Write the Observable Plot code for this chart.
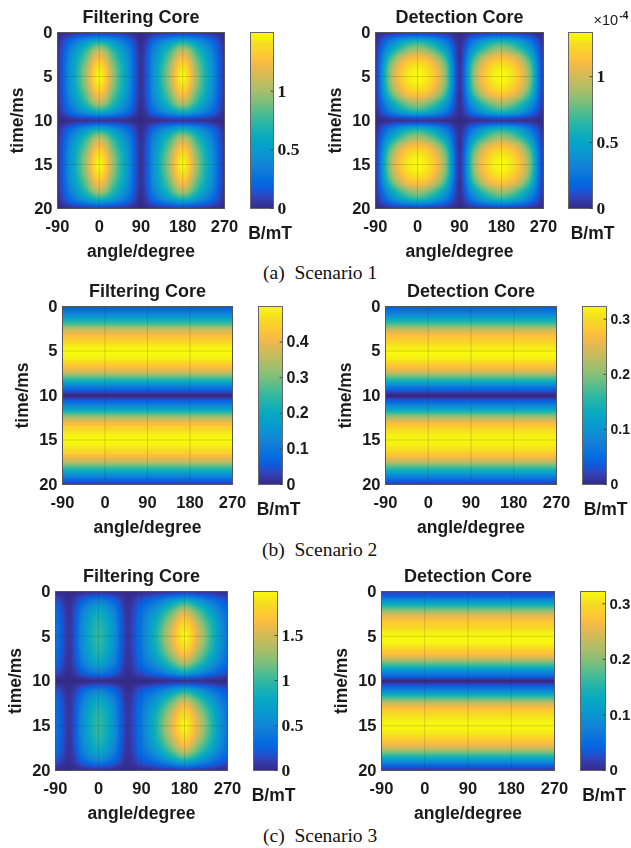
<!DOCTYPE html>
<html>
<head>
<meta charset="utf-8">
<script src="https://cdn.jsdelivr.net/npm/d3@7"></script>
<script src="https://cdn.jsdelivr.net/npm/@observablehq/plot@0.6"></script>
<style>
html,body{margin:0;padding:0;background:#fff;}
#page{position:relative;width:631px;height:848px;overflow:hidden;background:#fff;}
#page svg{position:absolute;filter:blur(0.35px);background:transparent;}
.cap{position:absolute;font-family:"Liberation Serif",serif;font-size:19.5px;color:#111;white-space:pre;line-height:20px;}
</style>
</head>
<body>
<div id="page"></div>
<script>
const angles2D = [-90,-60,-30,0,30,60,90,120,150,180,210,240,270];
const times2D = d3.range(0,21);
const anglesFlat = [-90,270];
const timesFlat = d3.range(0,20.5,0.5);
const xTicks = [-90,0,90,180,270];
const yTicks = [0,5,10,15,20];

const s1Filtering = [
[.00,.03,.05,.06,.05,.03,.00,.03,.05,.06,.05,.03,.00],
[.02,.25,.46,.63,.46,.25,.02,.25,.46,.63,.46,.25,.02],
[.03,.38,.72,1.05,.72,.38,.03,.38,.72,1.05,.72,.38,.03],
[.04,.45,.85,1.27,.85,.45,.04,.45,.85,1.27,.85,.45,.04],
[.04,.49,.95,1.43,.95,.49,.04,.49,.95,1.43,.95,.49,.04],
[.04,.50,.98,1.50,.98,.50,.04,.50,.98,1.50,.98,.50,.04],
[.04,.49,.95,1.43,.95,.49,.04,.49,.95,1.43,.95,.49,.04],
[.04,.45,.85,1.27,.85,.45,.04,.45,.85,1.27,.85,.45,.04],
[.03,.38,.72,1.05,.72,.38,.03,.38,.72,1.05,.72,.38,.03],
[.02,.25,.46,.63,.46,.25,.02,.25,.46,.63,.46,.25,.02],
[.00,.03,.05,.06,.05,.03,.00,.03,.05,.06,.05,.03,.00],
[.02,.25,.46,.63,.46,.25,.02,.25,.46,.63,.46,.25,.02],
[.03,.38,.72,1.05,.72,.38,.03,.38,.72,1.05,.72,.38,.03],
[.04,.45,.85,1.27,.85,.45,.04,.45,.85,1.27,.85,.45,.04],
[.04,.49,.95,1.43,.95,.49,.04,.49,.95,1.43,.95,.49,.04],
[.04,.50,.98,1.50,.98,.50,.04,.50,.98,1.50,.98,.50,.04],
[.04,.49,.95,1.43,.95,.49,.04,.49,.95,1.43,.95,.49,.04],
[.04,.45,.85,1.27,.85,.45,.04,.45,.85,1.27,.85,.45,.04],
[.03,.38,.72,1.05,.72,.38,.03,.38,.72,1.05,.72,.38,.03],
[.02,.25,.46,.63,.46,.25,.02,.25,.46,.63,.46,.25,.02],
[.00,.03,.05,.06,.05,.03,.00,.03,.05,.06,.05,.03,.00]
];
const s1Detection = [
[.00,.03,.04,.05,.04,.03,.00,.03,.04,.05,.04,.03,.00],
[.02,.27,.50,.60,.50,.27,.02,.27,.50,.60,.50,.27,.02],
[.03,.47,.77,.90,.77,.47,.03,.47,.77,.90,.77,.47,.03],
[.03,.67,1.04,1.15,1.04,.67,.03,.67,1.04,1.15,1.04,.67,.03],
[.04,.80,1.17,1.29,1.17,.80,.04,.80,1.17,1.29,1.17,.80,.04],
[.04,.83,1.22,1.33,1.22,.83,.04,.83,1.22,1.33,1.22,.83,.04],
[.04,.80,1.17,1.29,1.17,.80,.04,.80,1.17,1.29,1.17,.80,.04],
[.03,.67,1.04,1.15,1.04,.67,.03,.67,1.04,1.15,1.04,.67,.03],
[.03,.47,.77,.90,.77,.47,.03,.47,.77,.90,.77,.47,.03],
[.02,.27,.50,.60,.50,.27,.02,.27,.50,.60,.50,.27,.02],
[.00,.03,.04,.05,.04,.03,.00,.03,.04,.05,.04,.03,.00],
[.02,.27,.50,.60,.50,.27,.02,.27,.50,.60,.50,.27,.02],
[.03,.47,.77,.90,.77,.47,.03,.47,.77,.90,.77,.47,.03],
[.03,.67,1.04,1.15,1.04,.67,.03,.67,1.04,1.15,1.04,.67,.03],
[.04,.80,1.17,1.29,1.17,.80,.04,.80,1.17,1.29,1.17,.80,.04],
[.04,.83,1.22,1.33,1.22,.83,.04,.83,1.22,1.33,1.22,.83,.04],
[.04,.80,1.17,1.29,1.17,.80,.04,.80,1.17,1.29,1.17,.80,.04],
[.03,.67,1.04,1.15,1.04,.67,.03,.67,1.04,1.15,1.04,.67,.03],
[.03,.47,.77,.90,.77,.47,.03,.47,.77,.90,.77,.47,.03],
[.02,.27,.50,.60,.50,.27,.02,.27,.50,.60,.50,.27,.02],
[.00,.03,.04,.05,.04,.03,.00,.03,.04,.05,.04,.03,.00]
];
const s3Filtering = [
[.01,.00,.02,.03,.02,.00,.01,.03,.05,.06,.05,.03,.01],
[.17,.03,.28,.44,.28,.03,.19,.35,.58,.80,.58,.35,.17],
[.29,.05,.47,.74,.47,.05,.32,.60,1.00,1.35,1.00,.60,.29],
[.34,.06,.56,.88,.56,.06,.38,.78,1.25,1.70,1.25,.78,.34],
[.37,.07,.61,.96,.61,.07,.41,.87,1.42,1.88,1.42,.87,.37],
[.38,.07,.62,.98,.62,.07,.42,.90,1.48,1.98,1.48,.90,.38],
[.37,.07,.61,.96,.61,.07,.41,.87,1.42,1.88,1.42,.87,.37],
[.34,.06,.56,.88,.56,.06,.38,.78,1.25,1.70,1.25,.78,.34],
[.29,.05,.47,.74,.47,.05,.32,.60,1.00,1.35,1.00,.60,.29],
[.17,.03,.28,.44,.28,.03,.19,.35,.58,.80,.58,.35,.17],
[.01,.00,.02,.03,.02,.00,.01,.03,.05,.06,.05,.03,.01],
[.17,.03,.28,.44,.28,.03,.19,.35,.58,.80,.58,.35,.17],
[.29,.05,.47,.74,.47,.05,.32,.60,1.00,1.35,1.00,.60,.29],
[.34,.06,.56,.88,.56,.06,.38,.78,1.25,1.70,1.25,.78,.34],
[.37,.07,.61,.96,.61,.07,.41,.87,1.42,1.88,1.42,.87,.37],
[.38,.07,.62,.98,.62,.07,.42,.90,1.48,1.98,1.48,.90,.38],
[.37,.07,.61,.96,.61,.07,.41,.87,1.42,1.88,1.42,.87,.37],
[.34,.06,.56,.88,.56,.06,.38,.78,1.25,1.70,1.25,.78,.34],
[.29,.05,.47,.74,.47,.05,.32,.60,1.00,1.35,1.00,.60,.29],
[.17,.03,.28,.44,.28,.03,.19,.35,.58,.80,.58,.35,.17],
[.01,.00,.02,.03,.02,.00,.01,.03,.05,.06,.05,.03,.01]
];
const s2Filtering = [.05,.09,.14,.21,.27,.35,.40,.43,.46,.485,.50,.495,.48,.44,.41,.35,.27,.19,.11,.05,.00,.05,.11,.18,.26,.34,.40,.44,.47,.49,.50,.49,.47,.44,.40,.35,.27,.20,.13,.07,.02];
const s2Detection = [.035,.06,.09,.135,.175,.225,.26,.28,.295,.31,.32,.32,.31,.285,.265,.225,.175,.125,.07,.03,.00,.03,.07,.115,.17,.22,.26,.285,.305,.315,.32,.315,.305,.285,.26,.225,.175,.13,.085,.045,.015];
const s3Detection = [.02,.04,.09,.14,.19,.235,.265,.285,.295,.31,.32,.32,.31,.29,.27,.235,.185,.135,.08,.045,.00,.035,.075,.13,.185,.235,.27,.29,.305,.315,.32,.315,.305,.285,.265,.235,.19,.14,.09,.04,.01];

const parulaIndex = [0,4,7,10,15,20,25,30,34,38,42,46,50,53,56,59,63];
const parulaColors = ["#352a87","#3243ba","#0f5cdd","#046de0","#1481d6","#0998d1","#07a9c2","#25b5a9","#4dbc92","#7cbf7b","#a5be6b","#c8bc5d","#e9b94e","#fdbe3d","#fcce2e","#f5de21","#f9fb0e"];

const page = document.getElementById("page");
const sans = '"Liberation Sans", Arial, sans-serif';
const serif = '"Liberation Serif", serif';
const ink = "#1a1a1a";

const gridTable = (rows) => rows.flatMap((r,i)=>r.map((v,j)=>({a:angles2D[j],t:times2D[i],v})));
const flatTable = (vals) => vals.flatMap((v,i)=>anglesFlat.map(a=>({a,t:timesFlat[i],v})));
const colorScale = (max) => ({type:"linear",domain:parulaIndex.map(i=>i/63*max),range:parulaColors,clamp:true});

// Smooth raster spatial interpolator for a regular sample table (Catmull-Rom).
function smooth(index,w,h,X,Y,V){
  const xs=Array.from(new Set(Array.from(index,i=>X[i]))).sort(d3.ascending);
  const ys=Array.from(new Set(Array.from(index,i=>Y[i]))).sort(d3.ascending);
  const nx=xs.length,ny=ys.length;
  const G=new Float64Array(nx*ny);
  for(const i of index)G[d3.bisectLeft(ys,Y[i])*nx+d3.bisectLeft(xs,X[i])]=V[i];
  const at=(c,r)=>G[Math.max(0,Math.min(ny-1,r))*nx+Math.max(0,Math.min(nx-1,c))];
  const cr=(a,b,c,d,t)=>b+0.5*t*(c-a+t*(2*a-5*b+4*c-d+t*(3*(b-c)+d-a)));
  const seg=(arr,v)=>{const k=Math.max(0,Math.min(arr.length-2,d3.bisectRight(arr,v)-1));return [k,Math.max(0,Math.min(1,(v-arr[k])/(arr[k+1]-arr[k])))];};
  const O=new Float64Array(w*h);
  for(let py=0;py<h;py++){
    const [r,tr]=seg(ys,py+.5);
    for(let px=0;px<w;px++){
      const [c,tc]=seg(xs,px+.5);
      const row=k=>cr(at(c-1,k),at(c,k),at(c+1,k),at(c+2,k),tc);
      O[py*w+px]=Math.max(0,cr(row(r-1),row(r),row(r+1),row(r+2),tr));
    }
  }
  return O;
}

function place(svg,left,top){svg.style.left=left+"px";svg.style.top=top+"px";page.appendChild(svg);}

function heatmap({title,table,max,x0,x1,y0,y1}){
  const mL=55,mR=22,mT=32,mB=56;
  const svg = Plot.plot({
    width:(x1-x0)+mL+mR,height:(y1-y0)+mT+mB,
    marginLeft:mL,marginRight:mR,marginTop:mT,marginBottom:mB,
    style:{background:"transparent",color:ink,fontFamily:sans,fontWeight:"bold"},
    x:{domain:[-90,270],axis:null},
    y:{domain:[0,20],reverse:true,axis:null},
    color:colorScale(max),
    marks:[
      Plot.raster(table,{x:"a",y:"t",fill:"v",x1:-90,x2:270,y1:0,y2:20,interpolate:smooth}),
      Plot.ruleX(xTicks,{stroke:"#333",strokeOpacity:0.18,strokeWidth:1}),
      Plot.ruleY(yTicks,{stroke:"#333",strokeOpacity:0.18,strokeWidth:1}),
      Plot.frame({stroke:"#555",strokeWidth:1}),
      Plot.axisX(xTicks,{anchor:"bottom",tickSize:0,tickPadding:12,label:null,fontSize:16.5,tickFormat:d=>String(d)}),
      Plot.axisY(yTicks,{anchor:"left",tickSize:0,tickPadding:5,label:null,fontSize:16.5,tickFormat:d=>String(d)}),
      Plot.text([title],{frameAnchor:"top",dy:-15,lineAnchor:"middle",fontSize:18,fontWeight:"bold"}),
      Plot.text(["angle/degree"],{frameAnchor:"bottom",dy:43,lineAnchor:"middle",fontSize:17.5,fontWeight:"bold"}),
      Plot.text(["time/ms"],{frameAnchor:"left",dx:-40,rotate:-90,textAnchor:"middle",lineAnchor:"middle",fontSize:17.5,fontWeight:"bold"})
    ]
  });
  place(svg,x0-mL,y0-mT);
}

function colorbar({max,ticks,x0,x1,y0,y1,font,tickSize,labelDx,exponent}){
  const mL=2,mR=45,mT=32,mB=40;
  const barValues = d3.range(0,257).map(i=>i/256*max);
  const barTable = barValues.flatMap(v=>[0,1].map(x=>({x,v})));
  const marks = [
    Plot.raster(barTable,{x:"x",y:"v",fill:"v",x1:0,x2:1,y1:0,y2:max,interpolate:"barycentric"}),
    Plot.frame({stroke:"#666",strokeWidth:1}),
    Plot.ruleY(ticks,{x1:0.9,x2:1,stroke:"#444",strokeWidth:1}),
    Plot.axisY(ticks,{anchor:"right",tickSize:0,tickPadding:4,label:null,fontSize:tickSize,fontFamily:font,fontWeight:"bold",tickFormat:d=>String(d)}),
    Plot.text(["B/mT"],{frameAnchor:"bottom",dy:25,dx:labelDx,lineAnchor:"middle",fontSize:17.5,fontWeight:"bold",fontFamily:sans})
  ];
  if(exponent){
    marks.push(Plot.text(["×10"],{frameAnchor:"top-right",dx:1,dy:-12,lineAnchor:"middle",textAnchor:"start",fontSize:14.5,fontWeight:"normal",fontFamily:sans}));
    marks.push(Plot.text([exponent],{frameAnchor:"top-right",dx:27,dy:-17,lineAnchor:"middle",textAnchor:"start",fontSize:10,fontWeight:"bold",fontFamily:sans}));
  }
  const svg = Plot.plot({
    width:(x1-x0)+mL+mR,height:(y1-y0)+mT+mB,
    marginLeft:mL,marginRight:mR,marginTop:mT,marginBottom:mB,
    style:{background:"transparent",color:ink,fontFamily:sans,fontWeight:"bold"},
    x:{domain:[0,1],axis:null},
    y:{domain:[0,max],axis:null},
    color:colorScale(max),
    marks
  });
  place(svg,x0-mL,y0-mT);
}

heatmap({title:"Filtering Core",table:gridTable(s1Filtering),max:1.5,x0:57,x1:224,y0:32,y1:208});
colorbar({max:1.5,ticks:[0,0.5,1],x0:250,x1:273,y0:32,y1:208,font:serif,tickSize:17.5,labelDx:8});
heatmap({title:"Detection Core",table:gridTable(s1Detection),max:1.335,x0:375,x1:543,y0:32,y1:208});
colorbar({max:1.335,ticks:[0,0.5,1],x0:568,x1:592,y0:32,y1:208,font:serif,tickSize:17.5,labelDx:12,exponent:"-4"});

heatmap({title:"Filtering Core",table:flatTable(s2Filtering),max:0.5,x0:62,x1:232,y0:306,y1:484});
colorbar({max:0.5,ticks:[0,0.1,0.2,0.3,0.4],x0:258,x1:282,y0:306,y1:484,font:sans,tickSize:16,labelDx:8});
heatmap({title:"Detection Core",table:flatTable(s2Detection),max:0.323,x0:385,x1:556,y0:306,y1:484});
colorbar({max:0.323,ticks:[0,0.1,0.2,0.3],x0:582,x1:606,y0:306,y1:484,font:sans,tickSize:14,labelDx:11});

heatmap({title:"Filtering Core",table:gridTable(s3Filtering),max:1.99,x0:55,x1:227,y0:591,y1:770});
colorbar({max:1.99,ticks:[0,0.5,1,1.5],x0:253,x1:277,y0:591,y1:770,font:serif,tickSize:17.5,labelDx:8});
heatmap({title:"Detection Core",table:flatTable(s3Detection),max:0.322,x0:381,x1:554,y0:591,y1:770});
colorbar({max:0.322,ticks:[0,0.1,0.2,0.3],x0:580,x1:605,y0:591,y1:770,font:sans,tickSize:15,labelDx:11});

[["(a)  Scenario 1",263,263],["(b)  Scenario 2",262,540],["(c)  Scenario 3",263,826]].forEach(([t,l,top])=>{
  const d=document.createElement("div");d.className="cap";d.textContent=t;d.style.left=l+"px";d.style.top=top+"px";page.appendChild(d);
});
</script>
</body>
</html>
